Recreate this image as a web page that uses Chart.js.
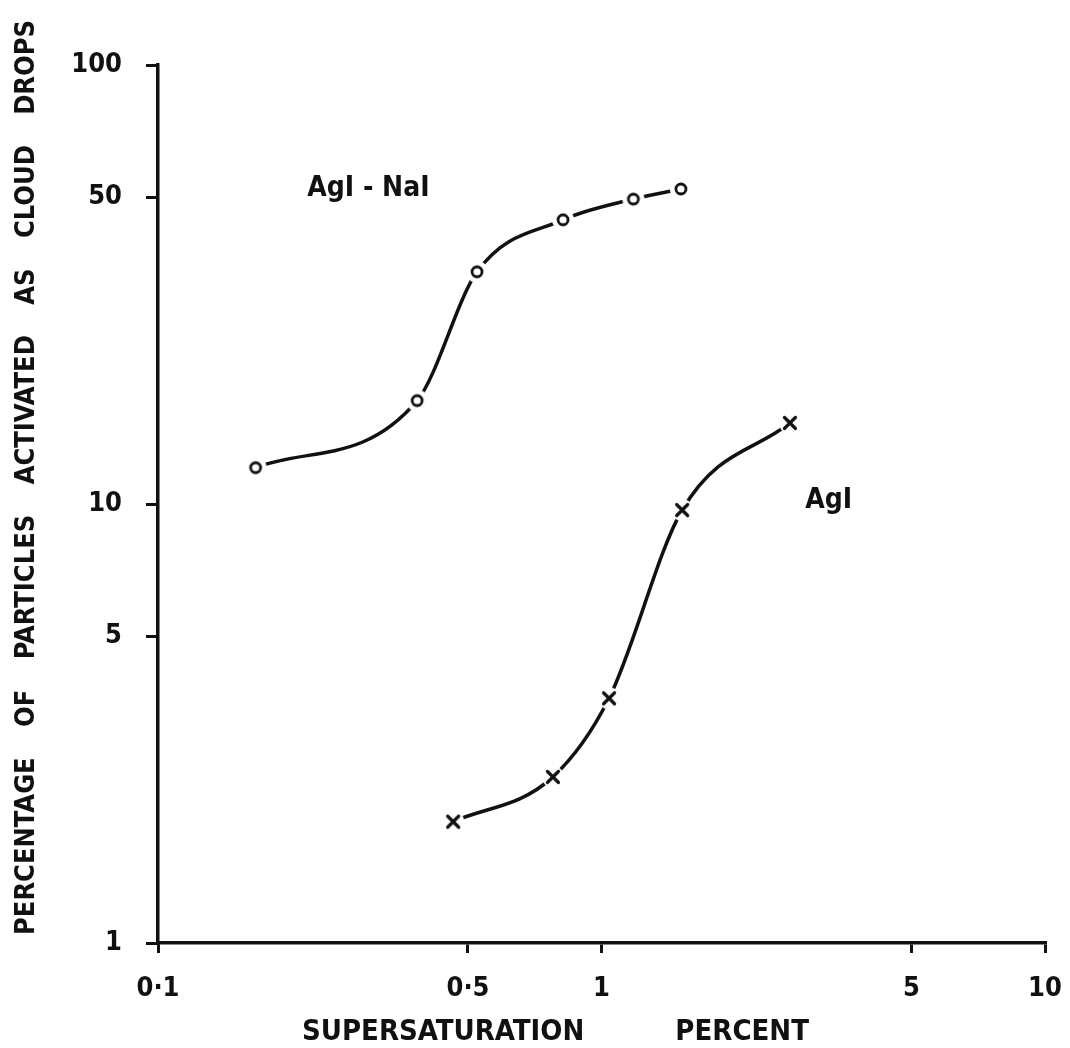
<!DOCTYPE html>
<html>
<head>
<meta charset="utf-8">
<script src="https://cdn.jsdelivr.net/npm/chart.js@4/dist/chart.umd.min.js"></script>
<style>
  html, body { margin: 0; padding: 0; background: #fff; }
  #wrap { width: 1070px; height: 1048px; }
</style>
</head>
<body>
<div id="wrap"><canvas id="chart" width="1070" height="1048"></canvas></div>
<script>
// values (supersaturation %, percentage activated)
var agiNaiX = [0.166, 0.384, 0.524, 0.819, 1.18, 1.51];
var agiNaiY = [12.1, 17.2, 33.8, 44.4, 49.5, 52.2];
var agiX = [0.463, 0.777, 1.04, 1.52, 2.66];
var agiY = [1.89, 2.39, 3.61, 9.69, 15.3];

var xTicks = [0.1, 0.5, 1, 5, 10];
var xTickLabels = ['0·1', '0·5', '1', '5', '10'];
var yTicks = [1, 5, 10, 50, 100];
var yTickLabels = ['1', '5', '10', '50', '100'];

var xTitle = ['SUPERSATURATION', 'PERCENT'];
var yTitle = ['PERCENTAGE', 'OF', 'PARTICLES', 'ACTIVATED', 'AS', 'CLOUD', 'DROPS'];

var curveLabels = [
    { text: 'AgI - NaI', x: 0.217, y: 50.3 },
    { text: 'AgI', x: 2.88, y: 9.8 }
];

var FONT = "'DejaVu Sans Condensed', 'DejaVu Sans', sans-serif";
var INK = '#111';

function toPoints(xs, ys){
    return xs.map(function(x, i){ return { x: x, y: ys[i] }; });
}

// marker with a white halo so the curve stops short of it, like the drawing
function makeMarker(kind){
    var c = document.createElement('canvas');
    c.width = 28; c.height = 28;
    var g = c.getContext('2d');
    g.fillStyle = '#fff';
    g.beginPath(); g.arc(14, 14, 11, 0, Math.PI * 2); g.fill();
    g.strokeStyle = INK;
    g.lineWidth = 2.8;
    g.lineCap = 'round';
    if (kind === 'circle') {
        g.beginPath(); g.arc(14, 14, 5, 0, Math.PI * 2); g.stroke();
    } else {
        g.lineWidth = 3.2;
        g.beginPath();
        g.moveTo(8.5, 8.5); g.lineTo(19.5, 19.5);
        g.moveTo(19.5, 8.5); g.lineTo(8.5, 19.5);
        g.stroke();
    }
    return c;
}

var textPlugin = {
    id: 'texts',
    afterDraw: function(chart){
        var ctx = chart.ctx;
        var xs = chart.scales.x, ys = chart.scales.y;
        ctx.save();
        ctx.fillStyle = INK;
        ctx.textBaseline = 'alphabetic';
        ctx.textAlign = 'left';

        ctx.font = 'bold 28px ' + FONT;
        curveLabels.forEach(function(l){
            ctx.fillText(l.text, xs.getPixelForValue(l.x), ys.getPixelForValue(l.y));
        });

        // x title, words spread between 302 and 809
        ctx.font = 'bold 29px ' + FONT;
        ctx.fillText(xTitle[0], 302, 1040);
        ctx.textAlign = 'right';
        ctx.fillText(xTitle[1], 809, 1040);

        // y title, rotated, words spread between y=935 and y=20
        ctx.font = 'bold 27px ' + FONT;
        ctx.textAlign = 'left';
        var widths = yTitle.map(function(w){ return ctx.measureText(w).width; });
        var total = widths.reduce(function(a, b){ return a + b; }, 0);
        var gap = (915 - total) / (yTitle.length - 1);
        ctx.translate(34, 935);
        ctx.rotate(-Math.PI / 2);
        var pos = 0;
        yTitle.forEach(function(w, i){
            ctx.fillText(w, pos, 0);
            pos += widths[i] + gap;
        });
        ctx.restore();
    }
};

var chart = new Chart(document.getElementById('chart').getContext('2d'), {
    type: 'line',
    data: {
        datasets: [
            {
                label: 'AgI - NaI',
                data: toPoints(agiNaiX, agiNaiY),
                borderColor: INK,
                borderWidth: 3.5,
                borderCapStyle: 'round',
                cubicInterpolationMode: 'monotone',
                pointStyle: makeMarker('circle'),
                pointRadius: 14,
                fill: false
            },
            {
                label: 'AgI',
                data: toPoints(agiX, agiY),
                borderColor: INK,
                borderWidth: 3.5,
                borderCapStyle: 'round',
                cubicInterpolationMode: 'monotone',
                pointStyle: makeMarker('cross'),
                pointRadius: 14,
                fill: false
            }
        ]
    },
    options: {
        responsive: false,
        animation: false,
        events: [],
        layout: { padding: { left: 0, top: 65, right: 25, bottom: 0 } },
        plugins: {
            legend: { display: false },
            tooltip: { enabled: false }
        },
        scales: {
            x: {
                type: 'logarithmic',
                min: 0.1,
                max: 10,
                afterBuildTicks: function(s){ s.ticks = xTicks.map(function(v){ return { value: v }; }); },
                afterFit: function(s){ s.height = 105; s.paddingLeft = 0; s.paddingRight = 0; },
                grid: { drawOnChartArea: false, color: INK, lineWidth: 3, tickLength: 10 },
                border: { color: INK, width: 3.5 },
                ticks: {
                    color: INK,
                    font: { family: FONT, size: 27, weight: 'bold' },
                    padding: 20,
                    maxRotation: 0,
                    autoSkip: false,
                    callback: function(v, i){ return xTickLabels[i]; }
                }
            },
            y: {
                type: 'logarithmic',
                min: 1,
                max: 100,
                afterBuildTicks: function(s){ s.ticks = yTicks.map(function(v){ return { value: v }; }); },
                afterFit: function(s){ s.width = 158; s.paddingTop = 0; s.paddingBottom = 0; },
                grid: { drawOnChartArea: false, color: INK, lineWidth: 3, tickLength: 12 },
                border: { color: INK, width: 3.5 },
                ticks: {
                    color: INK,
                    font: { family: FONT, size: 27, weight: 'bold' },
                    padding: 24,
                    autoSkip: false,
                    callback: function(v, i){ return yTickLabels[i]; }
                }
            }
        }
    },
    plugins: [textPlugin]
});
</script>
</body>
</html>
